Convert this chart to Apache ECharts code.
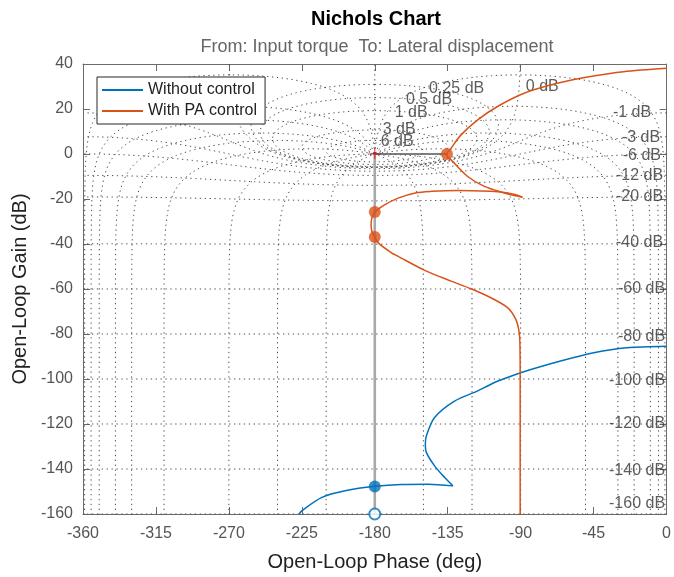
<!DOCTYPE html>
<html><head><meta charset="utf-8">
<script src="https://cdn.jsdelivr.net/npm/echarts@6/dist/echarts.min.js"></script>
<style>html,body{margin:0;padding:0;background:#fff}#c{width:674px;height:577px}</style>
</head><body><div id="c"></div>
<script>
// ---------- axis ticks ----------
const phaseTicks = [-360, -315, -270, -225, -180, -135, -90, -45, 0];
const gainTicks = [-160, -140, -120, -100, -80, -60, -40, -20, 0, 20, 40];

// ---------- data ----------
const seriesNames = ['Without control', 'With PA control'];

const noCtrlPhase = [0, -24.5, -44.9, -65.4, -90.0, -104.3, -110.4, -116.5, -130.8, -143.1, -148.2, -148.8, -148.2, -143.1, -137.0, -131.8, -147.2, -163.6, -179.9, -198.3, -212.6, -224.9, -226.6];
const noCtrlGain  = [-85.4, -86.1, -88.3, -92.0, -97.2, -101.0, -103.1, -105.3, -109.8, -117.1, -125.3, -129.0, -132.6, -138.6, -143.7, -147.5, -146.8, -146.9, -147.7, -149.7, -152.6, -158.5, -160];
const noCtrlTipIndex = 15;

const paPhase = [0, -26.6, -47.0, -67.4, -87.9, -104.3, -116.5, -126.8, -132.9, -135.5, -135.2, -132.9, -122.7, -112.4, -100.1, -93.0, -88.9, -93.5, -100.0, -108.4, -128.8, -145.0, -155.0, -165.6, -173.7, -180.0, -181.8, -182.3, -181.8, -180.0, -177.9, -169.7, -165.6, -149.2, -132.9, -120.6, -108.4, -98.1, -93.0, -90.9, -90.4, -90.3, -90.3];
const paGain  = [38.1, 36.6, 34.4, 31.4, 27.0, 21.1, 15.2, 8.5, 2.6, 0, -1.2, -2.6, -10.0, -14.4, -17.3, -18.6, -19.2, -18.0, -17.1, -16.6, -16.2, -16.6, -17.3, -19.6, -22.5, -25.8, -28.5, -31.4, -34.3, -36.9, -39.5, -43.9, -45.5, -51.7, -56.5, -59.9, -63.9, -68.3, -73.5, -79.4, -86.8, -100, -160];
const paTipIndex = 16;

// stability-margin markers
const paDotPhase = [-135.5, -180, -180];
const paDotGain  = [0, -25.8, -36.9];
const noCtrlDotPhase = [-180];
const noCtrlDotGain  = [-147.8];
const openCirclePhase = [-180];
const openCircleGain  = [-160];
const criticalPhase = [-180];
const criticalGain  = [0];
const gmLinePhase = [-180, -180];
const gmLineGain  = [-160, 0];
const pmLinePhase = [-180, -135.5];
const pmLineGain  = [0, 0];

// ---------- Nichols grid definition ----------
const gridGainsDb = [6, 3, 1, 0.5, 0.25, 0, -1, -3, -6, -12, -20, -40, -60, -80, -100, -120, -140, -160];
const gridPhasesDeg = [-1, -5, -10, -20, -30, -50, -90, -120, -150];

// grid labels (positions)
const leftLabelText  = ['6 dB', '3 dB', '1 dB', '0.5 dB', '0.25 dB', '0 dB'];
const leftLabelPhase = [-176.0, -174.8, -167.4, -160.5, -146.2, -86.5];
const leftLabelGain  = [5.5, 10.7, 18.1, 24.0, 29.0, 29.8];
const rightLabelText  = ['-1 dB', '-3 dB', '-6 dB', '-12 dB', '-20 dB', '-40 dB', '-60 dB', '-80 dB', '-100 dB', '-120 dB', '-140 dB', '-160 dB'];
const rightLabelPhase = [-9.2, -3.7, -3.1, -1.8, -1.8, -1.8, -0.6, -0.6, -0.6, -0.6, -0.6, -0.6];
const rightLabelGain  = [18.1, 7.0, -1.0, -10.0, -19.0, -39.5, -59.9, -81.2, -100.9, -120.1, -140.8, -155.6];

// ---------- helpers ----------
const FONT = '"Liberation Sans", Arial, Helvetica, sans-serif';
const zip = (a, b) => a.map((v, i) => [v, b[i]]);

function olFromCl(m, thDeg) {
  const t = thDeg * Math.PI / 180;
  const tr = m * Math.cos(t), ti = m * Math.sin(t);
  const br = 1 - tr, bi = -ti;
  const d = br * br + bi * bi;
  const gr = (tr * br + ti * bi) / d, gi = (ti * br - tr * bi) / d;
  let g = 20 * Math.log10(Math.hypot(gr, gi));
  g = Math.max(-400, Math.min(400, g));
  return [Math.atan2(gi, gr) * 180 / Math.PI, g];
}
function unwrapPts(raw) {
  const out = []; let prev = null;
  for (const [p, g] of raw) {
    let q = p;
    if (prev !== null) { while (q - prev > 180) q -= 360; while (q - prev < -180) q += 360; }
    out.push([q, g]); prev = q;
  }
  return out;
}
function gainContour(db) {
  const m = Math.pow(10, db / 20);
  const raw = [];
  let t = 0;
  while (t <= 360.0001) {
    if (!(db === 0 && (t < 0.03 || t > 359.97))) raw.push(olFromCl(m, -t));
    t += (t < 12 || t > 348) ? 0.04 : 0.5;
  }
  const pts = unwrapPts(raw);
  const mean = pts.reduce((s, p) => s + p[0], 0) / pts.length;
  const k = Math.round((-180 - mean) / 360);
  return pts.map(([p, g]) => [p + 360 * k, g]);
}
function phaseContour(phi) {
  const ss = [];
  for (let s = -9; s <= 6; s += 0.02) ss.push(s);
  for (let s = -0.2; s <= 0.2; s += 0.001) ss.push(s);
  for (let s = -0.03; s <= 0.03; s += 0.0002) ss.push(s);
  ss.sort((a, b) => a - b);
  return unwrapPts(ss.map(s => olFromCl(Math.pow(10, s), phi)));
}

const gridStyle = { color: '#4a4a4a', width: 1, type: [1.3, 3.6] };
const gridSeries = [];
function addGrid(data) {
  gridSeries.push({ type: 'line', data, symbol: 'none', silent: true, clip: true, z: 1,
    lineStyle: gridStyle, emphasis: { disabled: true } });
}
gridGainsDb.forEach(db => addGrid(gainContour(db)));
gridPhasesDeg.forEach(phi => {
  const c = phaseContour(phi);
  addGrid(c);
  addGrid(c.map(([p, g]) => [-360 - p, g]));
});
addGrid([[-180, -400], [-180, 0]]);   // closed-loop phase -180
addGrid([[-180, 0], [-180, 400]]);    // closed-loop phase 0 / -360

// response curves, split at their sharp tips so smoothing keeps the tips pointed
function curveSeries(name, ph, gn, tip, color) {
  const pts = zip(ph, gn);
  const parts = [pts.slice(0, tip + 1), pts.slice(tip)];
  return parts.map(p => ({ name, type: 'line', z: 5, symbol: 'none', smooth: 0.3, data: p,
    lineStyle: { color, width: 1.5 }, itemStyle: { color } }));
}

const axisCol = '#6b6b6b';
const option = {
  animation: false,
  textStyle: { fontFamily: FONT },
  grid: { left: 83, right: 4, top: 64, bottom: 63, containLabel: false },
  graphic: [
    { type: 'text', x: 376, y: 19, style: { text: 'Nichols Chart', font: 'bold 20px ' + FONT, fill: '#000', textAlign: 'center', textVerticalAlign: 'middle' } },
    { type: 'text', x: 377, y: 47, style: { text: 'From: Input torque  To: Lateral displacement', font: '18px ' + FONT, fill: '#666', textAlign: 'center', textVerticalAlign: 'middle' } }
  ],
  legend: {
    data: seriesNames, orient: 'vertical', left: 97, top: 77,
    padding: [5, 8, 5, 5], itemGap: 5, itemWidth: 41, itemHeight: 2, icon: 'rect',
    borderColor: '#262626', borderWidth: 1, backgroundColor: '#fff', borderRadius: 0,
    textStyle: { fontSize: 16, color: '#222', fontFamily: FONT }
  },
  xAxis: [
    { type: 'value', min: -360, max: 0, interval: 45, position: 'bottom',
      axisLine: { show: true, onZero: false, lineStyle: { color: axisCol } },
      axisTick: { show: true, inside: true, length: 7, lineStyle: { color: axisCol } },
      axisLabel: { color: '#555', fontSize: 16, margin: 12, fontFamily: FONT },
      splitLine: { show: false },
      name: 'Open-Loop Phase (deg)', nameLocation: 'middle', nameGap: 38,
      nameTextStyle: { fontSize: 20, color: '#222', fontFamily: FONT } },
    { type: 'value', min: -360, max: 0, interval: 45, position: 'top',
      axisLine: { show: true, onZero: false, lineStyle: { color: axisCol } },
      axisTick: { show: true, inside: true, length: 7, lineStyle: { color: axisCol } },
      axisLabel: { show: false }, splitLine: { show: false } }
  ],
  yAxis: [
    { type: 'value', min: -160, max: 40, interval: 20, position: 'left',
      axisLine: { show: true, onZero: false, lineStyle: { color: axisCol } },
      axisTick: { show: true, inside: true, length: 7, lineStyle: { color: axisCol } },
      axisLabel: { color: '#555', fontSize: 16, margin: 10, fontFamily: FONT },
      splitLine: { show: false },
      name: 'Open-Loop Gain (dB)', nameLocation: 'middle', nameGap: 50, nameRotate: 90,
      nameTextStyle: { fontSize: 20, color: '#222', fontFamily: FONT } },
    { type: 'value', min: -160, max: 40, interval: 20, position: 'right',
      axisLine: { show: true, onZero: false, lineStyle: { color: axisCol } },
      axisTick: { show: true, inside: true, length: 7, lineStyle: { color: axisCol } },
      axisLabel: { show: false }, splitLine: { show: false } }
  ],
  series: [
    ...gridSeries,
    { type: 'scatter', silent: true, z: 2, symbolSize: 1, itemStyle: { color: 'rgba(0,0,0,0)' },
      data: leftLabelText.map((t, i) => ({ name: t, value: [leftLabelPhase[i], leftLabelGain[i]] })),
      label: { show: true, formatter: '{b}', position: [0, 0], align: 'left', verticalAlign: 'middle', fontSize: 16, color: '#333', fontFamily: FONT } },
    { type: 'scatter', silent: true, z: 2, symbolSize: 1, itemStyle: { color: 'rgba(0,0,0,0)' },
      data: rightLabelText.map((t, i) => ({ name: t, value: [rightLabelPhase[i], rightLabelGain[i]] })),
      label: { show: true, formatter: '{b}', position: [0, 0], align: 'right', verticalAlign: 'middle', fontSize: 16, color: '#333', fontFamily: FONT } },
    { type: 'line', silent: true, z: 3, symbol: 'none', data: zip(gmLinePhase, gmLineGain), lineStyle: { color: '#a8a8a8', width: 2.6 } },
    { type: 'line', silent: true, z: 3, symbol: 'none', data: zip(pmLinePhase, pmLineGain), lineStyle: { color: '#555', width: 1.3 } },
    ...curveSeries(seriesNames[0], noCtrlPhase, noCtrlGain, noCtrlTipIndex, '#0072BD'),
    ...curveSeries(seriesNames[1], paPhase, paGain, paTipIndex, '#D95319'),
    { type: 'scatter', silent: true, z: 6, symbolSize: 12, data: zip(paDotPhase, paDotGain), itemStyle: { color: '#D95319' } },
    { type: 'scatter', silent: true, z: 6, symbolSize: 12, data: zip(noCtrlDotPhase, noCtrlDotGain), itemStyle: { color: '#0072BD' } },
    { type: 'scatter', silent: true, z: 6, symbol: 'emptyCircle', symbolSize: 11, clip: false, data: zip(openCirclePhase, openCircleGain), itemStyle: { color: '#0072BD', borderWidth: 1.2 } },
    { type: 'scatter', silent: true, z: 7, symbol: 'path://M4,0h1v4h4v1h-4v4h-1v-4h-4v-1h4z', symbolSize: 10, data: zip(criticalPhase, criticalGain), itemStyle: { color: '#ff0000' } }
  ]
};
const chart = echarts.init(document.getElementById('c'), null, { renderer: 'canvas' });
chart.setOption(option);
</script>
</body></html>
